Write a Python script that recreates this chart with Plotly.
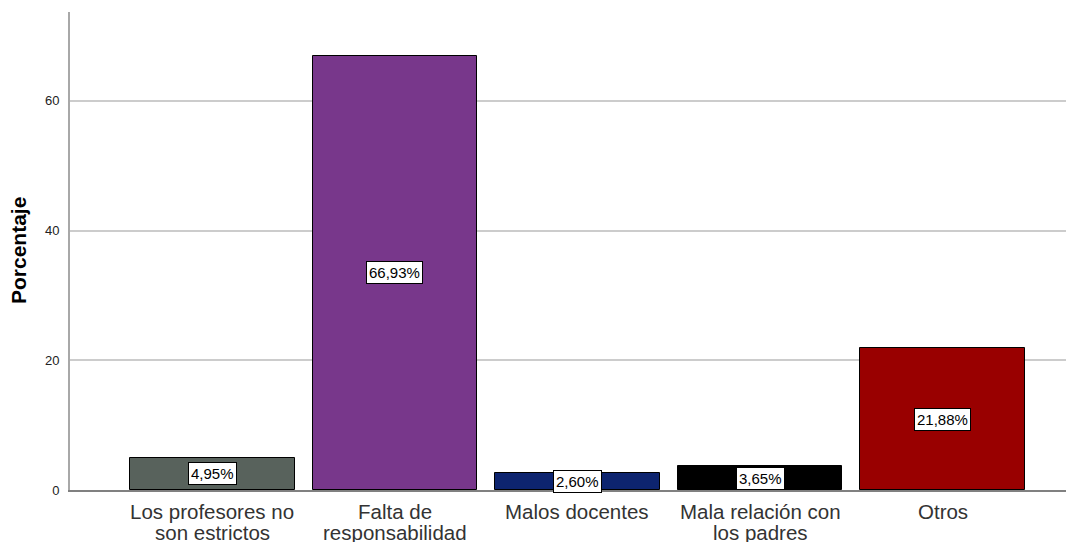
import plotly.graph_objects as go

categories = ["Los profesores no\nson estrictos", "Falta de\nresponsabilidad", "Malos docentes",
              "Mala relación con\nlos padres", "Otros"]
values = [4.95, 66.93, 2.60, 3.65, 21.88]
labels = ["4,95%", "66,93%", "2,60%", "3,65%", "21,88%"]
colors = ["#58625c", "#78378b", "#0d246f", "#000000", "#990000"]
y_ticks = [0, 20, 40, 60]

x_idx = list(range(len(categories)))
BASE_FONT = "Liberation Sans, Arial, sans-serif"

fig = go.Figure()
fig.add_trace(go.Bar(
    x=x_idx, y=values, width=0.9,
    marker=dict(color=colors, line=dict(color="#000000", width=1)),
    hoverinfo="skip",
))

# value labels
for xi, v, lab in zip(x_idx, values, labels):
    fig.add_annotation(
        x=xi, y=v / 2, text=lab, showarrow=False,
        font=dict(family=BASE_FONT, size=15, color="#000000"),
        bgcolor="#ffffff", bordercolor="#000000", borderwidth=1, borderpad=2,
    )

# category labels (one annotation per line for tight line spacing)
for xi, cat in zip(x_idx, categories):
    for li, line in enumerate(cat.split("\n")):
        fig.add_annotation(
            x=xi, xref="x", y=0, yref="paper", text=line, showarrow=False,
            xanchor="center", yanchor="middle", yshift=-21 - 21 * li,
            font=dict(family=BASE_FONT, size=20.5, color="#333333"),
        )

# y-axis title
fig.add_annotation(
    x=0, xref="paper", y=0.5, yref="paper", text="<b>Porcentaje</b>",
    showarrow=False, textangle=-90, xanchor="center", yanchor="middle",
    xshift=-52, font=dict(family=BASE_FONT, size=21, color="#000000"),
)

fig.update_layout(
    width=1066, height=534,
    margin=dict(l=62, r=0, t=4, b=52),
    paper_bgcolor="#ffffff", plot_bgcolor="#ffffff",
    showlegend=False,
    bargap=0,
    font=dict(family=BASE_FONT, color="#222222"),
    xaxis=dict(
        tickmode="array", tickvals=x_idx, ticktext=[""] * len(x_idx),
        range=[-0.78, 4.72],
        showgrid=False, zeroline=False,
        showline=True, linecolor="#808080", linewidth=2,
        ticks="",
    ),
    yaxis=dict(
        range=[0, 73.7],
        tickvals=y_ticks,
        showgrid=True, gridcolor="#cccccc", gridwidth=1.5,
        zeroline=False,
        showline=True, linecolor="#a8a8a8", linewidth=2,
        tickfont=dict(size=13, color="#222222"),
        ticks="", ticklabelstandoff=6,
    ),
)

fig.write_html("out.html")
